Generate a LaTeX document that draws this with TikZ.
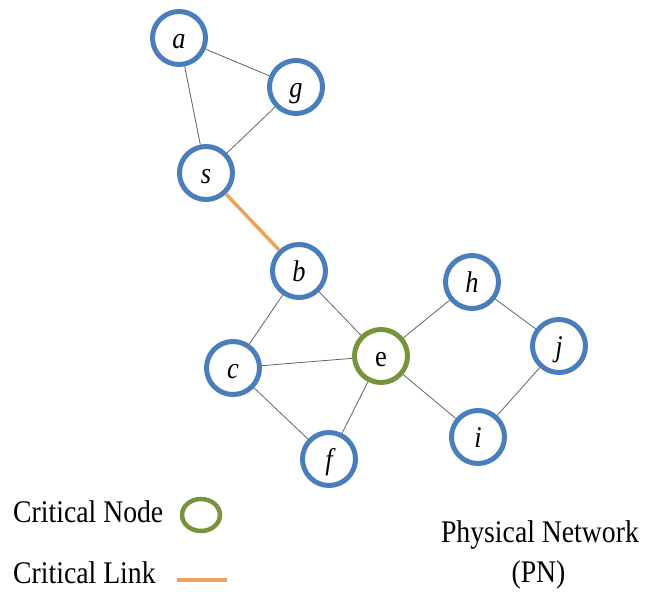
\documentclass[tikz,border=0pt]{standalone}
\usepackage{fontspec}
\usetikzlibrary{shapes.geometric}
\setmainfont{Liberation Serif}[FakeStretch=0.88]
\definecolor{nodeblue}{RGB}{74,126,187}
\definecolor{critgreen}{RGB}{119,147,60}
\definecolor{critorange}{RGB}{236,162,92}
\definecolor{edgegray}{RGB}{100,100,100}
\begin{document}
\begin{tikzpicture}[x=1pt,y=-1pt,
  pnode/.style={circle,draw=nodeblue,line width=5pt,minimum size=53pt,inner sep=0pt,
    font=\fontsize{30}{32}\selectfont\itshape,text height=20pt,text depth=0pt},
  critnode/.style={pnode,draw=critgreen,font=\fontsize{30}{32}\selectfont\upshape},
  edge/.style={draw=edgegray,line width=0.8pt},
  critedge/.style={draw=critorange,line width=3.5pt},
  legendtext/.style={font=\fontsize{31.5}{34}\selectfont,inner sep=0pt}]
\useasboundingbox (0,0) rectangle (646,592);
% nodes
\node[pnode] (a) at (179,38) {a};
\node[pnode] (g) at (296,87) {g};
\node[pnode] (s) at (206,173) {s};
\node[pnode] (b) at (299,271) {b};
\node[pnode] (h) at (472,282) {h};
\node[pnode] (j) at (559,346) {j};
\node[pnode] (c) at (233,368) {c};
\node[critnode] (e) at (381,356) {e};
\node[pnode] (f) at (329,459) {f};
\node[pnode] (i) at (478,437) {i};
% edges
\draw[edge] (a) -- (g);
\draw[edge] (a) -- (s);
\draw[edge] (g) -- (s);
\draw[critedge] (s) -- (b);
\draw[edge] (b) -- (c);
\draw[edge] (b) -- (e);
\draw[edge] (c) -- (e);
\draw[edge] (c) -- (f);
\draw[edge] (f) -- (e);
\draw[edge] (e) -- (h);
\draw[edge] (e) -- (i);
\draw[edge] (h) -- (j);
\draw[edge] (j) -- (i);
% legend
\node[legendtext,anchor=base west] (ln) at (13,522) {Critical Node};
\node[ellipse,draw=critgreen,line width=4.5pt,minimum width=38pt,minimum height=32pt,inner sep=0pt] (lc) at (201,515) {};
\node[legendtext,anchor=base west] (ll) at (13,583) {Critical Link};
\coordinate (lo1) at (177,580);
\coordinate (lo2) at (227,580);
\draw[critedge] (lo1) -- (lo2);
\node[legendtext,anchor=base] (pn1) at (540,542) {Physical Network};
\node[legendtext,anchor=base] (pn2) at (538.5,582) {(PN)};
\end{tikzpicture}
\end{document}
